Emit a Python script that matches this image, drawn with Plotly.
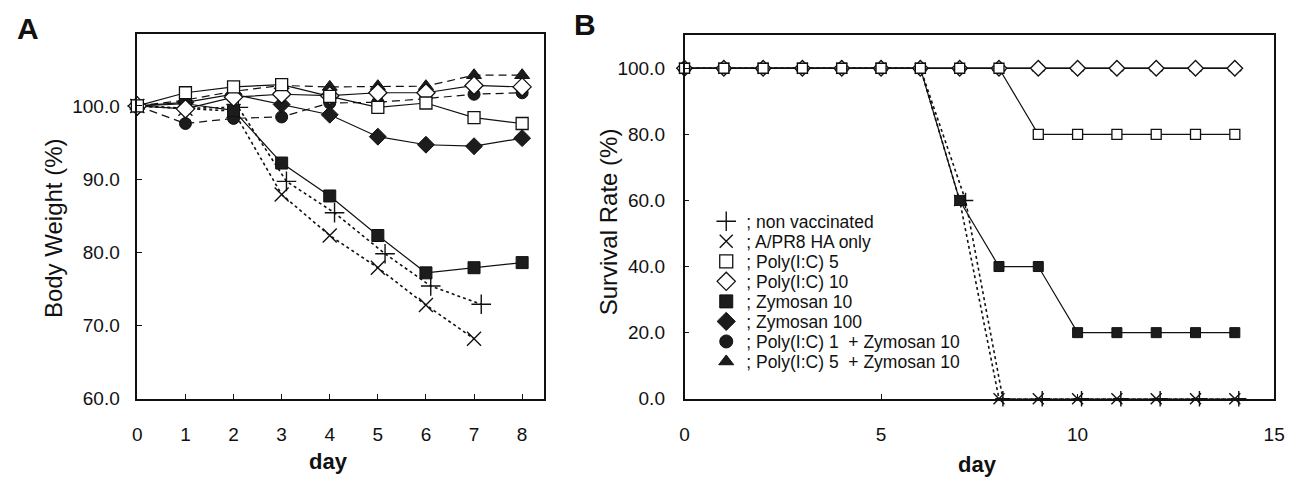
import plotly.graph_objects as go

# ---------------- Panel A : body weight ----------------
days_a = [0, 1, 2, 3, 4, 5, 6, 7, 8]
plus_days_a = [0, 1, 2.1, 3.1, 4.1, 5.15, 6.1, 7.15]
x_days_a = [0, 1, 2, 3, 4, 5, 6, 7]

nonvac_a = [100.0, 99.7, 99.8, 89.7, 85.4, 79.8, 75.4, 72.9]
haonly_a = [100.0, 99.6, 99.3, 87.9, 82.3, 77.9, 72.8, 68.2]
poly5_a = [100.0, 101.8, 102.6, 102.9, 101.3, 99.8, 100.4, 98.4, 97.6]
poly10_a = [100.0, 99.6, 101.2, 101.6, 101.4, 101.8, 101.8, 102.8, 102.6]
zym10_a = [100.0, 100.3, 99.4, 92.2, 87.7, 82.3, 77.2, 77.9, 78.6]
zym100_a = [100.0, 100.5, 101.6, 100.2, 98.8, 95.8, 94.7, 94.5, 95.6]
p1z10_a = [100.0, 97.6, 98.3, 98.5, 100.4, 100.5, 101.0, 101.6, 101.8]
p5z10_a = [100.0, 100.8, 102.0, 102.8, 102.6, 102.7, 102.7, 104.2, 104.2]

# ---------------- Panel B : survival ----------------
days_b = [0, 1, 2, 3, 4, 5, 6, 7, 8, 9, 10, 11, 12, 13, 14]
plus_days_b = [0, 1, 2, 3, 4, 5, 6, 7.15, 8.1, 9.1, 10.1, 11.1, 12.1, 13.1, 14.1]
nonvac_b = [100, 100, 100, 100, 100, 100, 100, 60, 0, 0, 0, 0, 0, 0, 0]
haonly_b = [100, 100, 100, 100, 100, 100, 100, 60, 0, 0, 0, 0, 0, 0, 0]
poly5_b = [100, 100, 100, 100, 100, 100, 100, 100, 100, 80, 80, 80, 80, 80, 80]
poly10_b = [100, 100, 100, 100, 100, 100, 100, 100, 100, 100, 100, 100, 100, 100, 100]
zym10_b = [100, 100, 100, 100, 100, 100, 100, 60, 40, 40, 20, 20, 20, 20, 20]
zym100_b = [100, 100, 100, 100, 100, 100, 100, 100, 100, 100, 100, 100, 100, 100, 100]
p1z10_b = [100, 100, 100, 100, 100, 100, 100, 100, 100, 100, 100, 100, 100, 100, 100]
p5z10_b = [100, 100, 100, 100, 100, 100, 100, 100, 100, 100, 100, 100, 100, 100, 100]

legend_names = [
    "; non vaccinated",
    "; A/PR8 HA only",
    "; Poly(I:C) 5",
    "; Poly(I:C) 10",
    "; Zymosan 10",
    "; Zymosan 100",
    "; Poly(I:C) 1  + Zymosan 10",
    "; Poly(I:C) 5  + Zymosan 10",
]

BLK = "#111111"
FONT = "Arial, Liberation Sans, Helvetica, sans-serif"
W, H = 1296, 485

styles = {
    "plus": dict(symbol="cross-thin", color=BLK, line=dict(color=BLK, width=1.4)),
    "x": dict(symbol="x-thin", color=BLK, line=dict(color=BLK, width=1.4)),
    "osq": dict(symbol="square", color="white", line=dict(color=BLK, width=1.3)),
    "odi": dict(symbol="diamond", color="white", line=dict(color=BLK, width=1.3)),
    "fsq": dict(symbol="square", color="#1c1c1c", line=dict(color=BLK, width=1)),
    "fdi": dict(symbol="diamond", color="#1c1c1c", line=dict(color=BLK, width=1)),
    "fci": dict(symbol="circle", color="#1c1c1c", line=dict(color=BLK, width=1)),
    "ftr": dict(symbol="triangle-up", color="#1c1c1c", line=dict(color=BLK, width=1)),
}
sizes_a = {"plus": 14, "x": 14, "osq": 12, "odi": 14, "fsq": 12, "fdi": 13, "fci": 12, "ftr": 13}
sizes_b = {"plus": 11, "x": 11, "osq": 10, "odi": 12, "fsq": 10, "fdi": 11, "fci": 10, "ftr": 11}

DOT = dict(color=BLK, width=1.6, dash="dot")
SOLID = dict(color=BLK, width=1.2)
DASH = dict(color=BLK, width=1.2, dash="8px,5px")

fig = go.Figure()


def add(x, y, key, line, sizes, xa, ya):
    m = dict(styles[key])
    m["size"] = sizes[key]
    fig.add_trace(go.Scatter(x=x, y=y, mode="lines+markers", line=line, marker=m,
                             xaxis=xa, yaxis=ya, showlegend=False, hoverinfo="skip",
                             cliponaxis=False))


# Panel A (draw order: back to front)
add(x_days_a, haonly_a, "x", DOT, sizes_a, "x", "y")
add(plus_days_a, nonvac_a, "plus", DOT, sizes_a, "x", "y")
add(days_a, p1z10_a, "fci", DASH, sizes_a, "x", "y")
add(days_a, p5z10_a, "ftr", DASH, sizes_a, "x", "y")
add(days_a, zym100_a, "fdi", SOLID, sizes_a, "x", "y")
add(days_a, zym10_a, "fsq", SOLID, sizes_a, "x", "y")
add(days_a, poly10_a, "odi", SOLID, sizes_a, "x", "y")
add(days_a, poly5_a, "osq", SOLID, sizes_a, "x", "y")

# Panel B
add(days_b, haonly_b, "x", DOT, sizes_b, "x2", "y2")
add(plus_days_b, nonvac_b, "plus", DOT, sizes_b, "x2", "y2")
add(days_b, p5z10_b, "ftr", SOLID, sizes_b, "x2", "y2")
add(days_b, p1z10_b, "fci", SOLID, sizes_b, "x2", "y2")
add(days_b, zym100_b, "fdi", SOLID, sizes_b, "x2", "y2")
add(days_b, zym10_b, "fsq", SOLID, sizes_b, "x2", "y2")
add(days_b, poly10_b, "odi", SOLID, sizes_b, "x2", "y2")
add(days_b, poly5_b, "osq", SOLID, sizes_b, "x2", "y2")

# Legend: one small legend per entry so rows sit at the reference spacing
legend_keys = ["plus", "x", "osq", "odi", "fsq", "fdi", "fci", "ftr"]
legend_sizes = {"plus": 14, "x": 13, "osq": 13, "odi": 14, "fsq": 13, "fdi": 14, "fci": 13, "ftr": 13}
row0, row_gap = 226.5, 20.5
for k, (key, name) in enumerate(zip(legend_keys, legend_names)):
    lname = "legend" if k == 0 else f"legend{k + 1}"
    m = dict(styles[key])
    m["size"] = legend_sizes[key]
    fig.add_trace(go.Scatter(x=[None], y=[None], mode="markers", marker=m, name=name,
                             xaxis="x2", yaxis="y2", legend=lname, showlegend=True))
    fig.layout[lname] = dict(
        x=710 / W, y=1 - (row0 + k * row_gap) / H, xanchor="left", yanchor="middle",
        bgcolor="rgba(0,0,0,0)", borderwidth=0, itemclick=False, itemdoubleclick=False,
        font=dict(family=FONT, size=17.5, color=BLK), tracegroupgap=0,
    )

axis_common = dict(
    showline=True, mirror=True, linecolor=BLK, linewidth=1.5,
    ticks="inside", ticklen=5, tickwidth=1.3, tickcolor=BLK,
    showgrid=False, zeroline=False, ticklabeloverflow="allow",
    tickfont=dict(family=FONT, size=19, color=BLK),
)

TITLE_FONT = dict(family=FONT, size=24, color=BLK)
DAY_FONT = dict(family=FONT, size=22, color=BLK)


def paper_text(text, px, py, font, angle=0):
    return dict(text=text, x=px / W, y=1 - py / H, xref="paper", yref="paper",
                xanchor="center", yanchor="middle", textangle=angle,
                showarrow=False, font=font)


fig.update_layout(
    width=W, height=H,
    margin=dict(l=0, r=0, t=0, b=0),
    paper_bgcolor="white", plot_bgcolor="white",
    xaxis=dict(axis_common, domain=[134 / W, 546 / W], range=[0, 8.46],
               tickvals=[0, 1, 2, 3, 4, 5, 6, 7, 8], ticklabelstandoff=18, anchor="y"),
    yaxis=dict(axis_common, domain=[1 - 408 / H, 1 - 35 / H], range=[60, 109.8],
               tickvals=[60, 70, 80, 90, 100], tickformat=".1f", ticklabelstandoff=12,
               anchor="x"),
    xaxis2=dict(axis_common, domain=[688 / W, 1285 / W], range=[0, 15],
                tickvals=[0, 5, 10, 15], ticklabelstandoff=18, anchor="y2"),
    yaxis2=dict(axis_common, domain=[1 - 408 / H, 1 - 36 / H], range=[0, 110],
                tickvals=[0, 20, 40, 60, 80, 100], tickformat=".1f", ticklabelstandoff=14,
                anchor="x2"),
    annotations=[
        paper_text("<b>A</b>", 23, 29, dict(family=FONT, size=30, color=BLK)),
        paper_text("<b>B</b>", 587, 25, dict(family=FONT, size=30, color=BLK)),
        paper_text("Body Weight (%)", 49, 233, TITLE_FONT, -90),
        paper_text("Survival Rate (%)", 611, 227, TITLE_FONT, -90),
        paper_text("<b>day</b>", 328, 472, DAY_FONT),
        paper_text("<b>day</b>", 985, 475, DAY_FONT),
    ],
)

fig.write_html("out.html", config={"displayModeBar": False},
               post_script="document.body.style.margin='0';document.body.style.overflow='hidden';")
